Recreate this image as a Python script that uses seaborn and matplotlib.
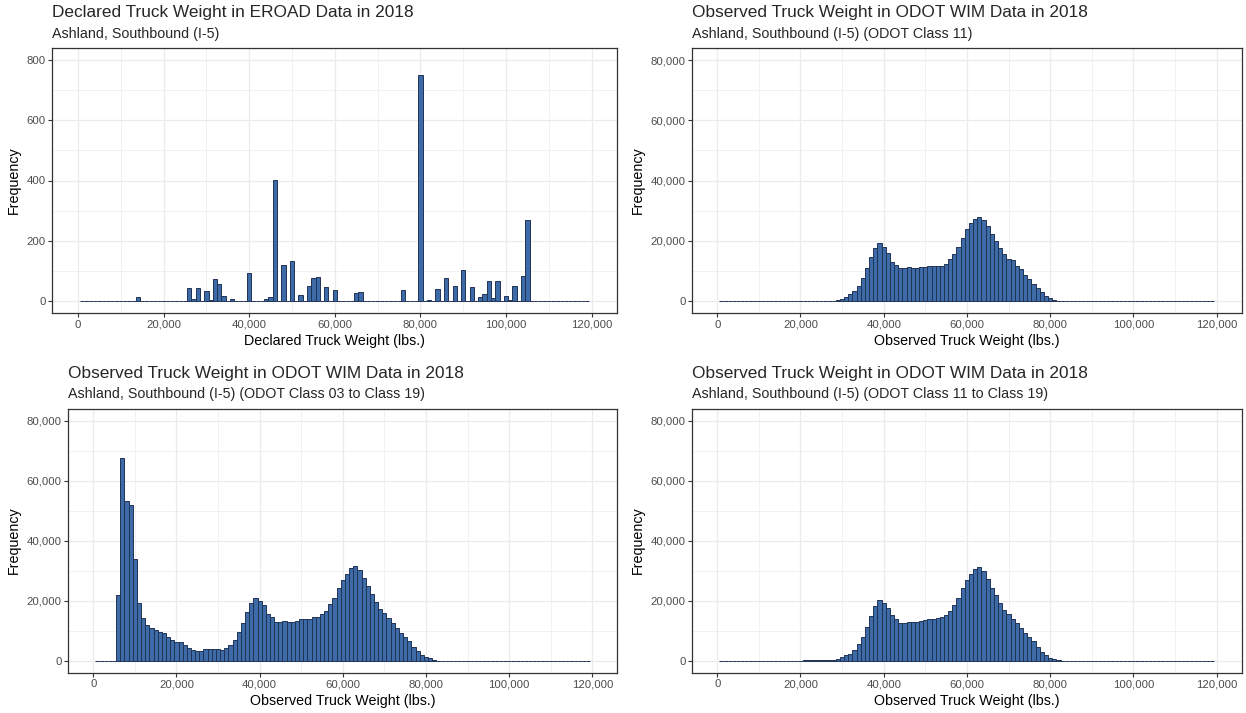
import numpy as np
import pandas as pd
import matplotlib
matplotlib.use('Agg')
import matplotlib.pyplot as plt
from matplotlib.ticker import FuncFormatter, MultipleLocator
import seaborn as sns

# Data (bin centres in lbs, counts per 1,000 lb bin)
# EROAD declared weights - only non-empty bins
eroad_weight = [14000, 26000, 27000, 28000, 30000, 31000, 32000, 33000, 34000, 36000,
                40000, 44000, 45000, 46000, 48000, 50000, 52000, 54000, 55000, 56000,
                58000, 60000, 65000, 66000, 76000, 80000, 82000, 84000, 86000, 88000,
                90000, 92000, 94000, 95000, 96000, 97000, 98000, 100000, 101000, 102000,
                104000, 105000]
eroad_count = [13, 41, 7, 41, 32, 3, 73, 57, 16, 4,
               93, 7, 12, 403, 118, 131, 19, 48, 77, 80,
               44, 36, 24, 29, 36, 752, 3, 38, 77, 50,
               102, 47, 12, 22, 67, 9, 67, 16, 3, 50,
               83, 268]

# ODOT WIM class 11 (29,000 to 81,000 lbs)
c11_start = 29000
c11_count = [200, 670, 1200, 2100, 3200, 5000, 7700, 10800, 14700, 17600,
             19200, 18000, 15900, 13000, 12000, 10900, 10800, 11150, 10900, 10900,
             11150, 11150, 11400, 11400, 11400, 11700, 12300, 13800, 15700, 18000,
             20700, 23700, 25800, 27200, 28000, 26900, 25000, 22100, 19800, 17500,
             15700, 14000, 13500, 11500, 10400, 8700, 7200, 5700, 4300, 2900,
             1600, 1000, 330]

# ODOT WIM class 03 to 19 (6,000 to 82,000 lbs)
c03_19_start = 6000
c03_19_count = [21700, 67700, 53100, 51800, 33800, 19300, 14300, 11700, 10800, 10100,
                9400, 9200, 8000, 7000, 6300, 6300, 5300, 4300, 3400, 3100,
                3100, 3800, 3800, 3800, 3800, 3500, 4100, 5050, 6850, 9350,
                12550, 16150, 19250, 20800, 19900, 18400, 15600, 14400, 13000, 13000,
                13200, 13000, 13000, 13300, 13700, 13900, 13900, 14500, 14500, 15400,
                16500, 18800, 21000, 24200, 27000, 29000, 30700, 31500, 30200, 27600,
                25000, 22100, 19400, 17100, 15700, 14100, 12400, 11000, 9200, 7800,
                6400, 4600, 3200, 1800, 1100, 700, 300]

# ODOT WIM class 11 to 19 (21,000 to 82,000 lbs)
c11_19_start = 21000
c11_19_count = [250, 250, 250, 250, 250, 250, 250, 250, 670, 1200,
                1800, 2200, 3500, 5400, 7800, 11200, 15000, 18100, 20200, 19200,
                17600, 15100, 14000, 12500, 12500, 12800, 12800, 12800, 13100, 13400,
                13800, 13800, 14100, 14400, 15200, 16600, 18600, 20800, 24200, 26700,
                29000, 30600, 31100, 29900, 27200, 24100, 21700, 19300, 16900, 15500,
                14000, 12400, 11000, 9200, 7700, 6400, 4500, 3000, 1700, 1000,
                670, 220]

titles = ['Declared Truck Weight in EROAD Data in 2018',
          'Observed Truck Weight in ODOT WIM Data in 2018',
          'Observed Truck Weight in ODOT WIM Data in 2018',
          'Observed Truck Weight in ODOT WIM Data in 2018']
subtitles = ['Ashland, Southbound (I-5)',
             'Ashland, Southbound (I-5) (ODOT Class 11)',
             'Ashland, Southbound (I-5) (ODOT Class 03 to Class 19)',
             'Ashland, Southbound (I-5) (ODOT Class 11 to Class 19)']
xlabels = ['Declared Truck Weight (lbs.)', 'Observed Truck Weight (lbs.)',
           'Observed Truck Weight (lbs.)', 'Observed Truck Weight (lbs.)']


def centres(start, counts):
    return [start + 1000 * i for i in range(len(counts))]


series = [(eroad_weight, eroad_count),
          (centres(c11_start, c11_count), c11_count),
          (centres(c03_19_start, c03_19_count), c03_19_count),
          (centres(c11_19_start, c11_19_count), c11_19_count)]

sns.set_style('white')
plt.rcParams['font.family'] = ['Liberation Sans', 'DejaVu Sans']

W, H = 1246, 713
fig = plt.figure(figsize=(W / 100, H / 100), dpi=100)

# panel boxes in pixels: left, right, top, bottom
boxes = [(52.3, 617.3, 48.3, 312.7),
         (692.3, 1241.5, 48.3, 312.7),
         (68.3, 617.3, 408.7, 672.5),
         (692.3, 1241.5, 408.7, 672.5)]

# 1,000 lb bins from 500 to 119,500 (list, seaborn chokes on array bins + weights)
edges = [500 + 1000 * j for j in range(120)]
comma = FuncFormatter(lambda v, p: '{:,.0f}'.format(v))

for i, (box, (wt, cnt)) in enumerate(zip(boxes, series)):
    l, r, t, b = box
    ax = fig.add_axes([l / W, 1 - b / H, (r - l) / W, (b - t) / H])
    df = pd.DataFrame({'weight': wt, 'count': cnt})
    sns.histplot(data=df, x='weight', weights='count', bins=edges, ax=ax,
                 color='#3d6ba8', edgecolor='#223455', linewidth=0.7, alpha=1)

    ax.set_xlim(-6000, 126000)
    ax.xaxis.set_major_locator(MultipleLocator(20000))
    ax.xaxis.set_minor_locator(MultipleLocator(10000))
    ax.xaxis.set_major_formatter(comma)
    if i == 0:
        ax.set_ylim(-40, 840)
        ax.yaxis.set_major_locator(MultipleLocator(200))
        ax.yaxis.set_minor_locator(MultipleLocator(100))
    else:
        ax.set_ylim(-4000, 84000)
        ax.yaxis.set_major_locator(MultipleLocator(20000))
        ax.yaxis.set_minor_locator(MultipleLocator(10000))
        ax.yaxis.set_major_formatter(comma)

    ax.grid(which='major', color='#ebebeb', linewidth=0.9)
    ax.grid(which='minor', color='#ebebeb', linewidth=0.5)
    ax.set_axisbelow(True)
    for s in ax.spines.values():
        s.set_visible(True)
        s.set_color('#333333')
        s.set_linewidth(0.9)
    ax.tick_params(which='major', bottom=True, left=True, length=2.75, width=0.8,
                   color='#333333', labelsize=8.2, labelcolor='#4d4d4d', pad=2.2)
    ax.tick_params(which='minor', length=0)

    ax.set_xlabel(xlabels[i], fontsize=10.3, color='black', labelpad=3)
    ax.set_ylabel('Frequency', fontsize=10.3, color='black', labelpad=4)

    fig.text(l / W, 1 - (t - 31) / H, titles[i], fontsize=12.4, va='baseline', ha='left')
    fig.text(l / W, 1 - (t - 10.6) / H, subtitles[i], fontsize=10.3, va='baseline', ha='left')

fig.savefig('out.png', dpi=100)
